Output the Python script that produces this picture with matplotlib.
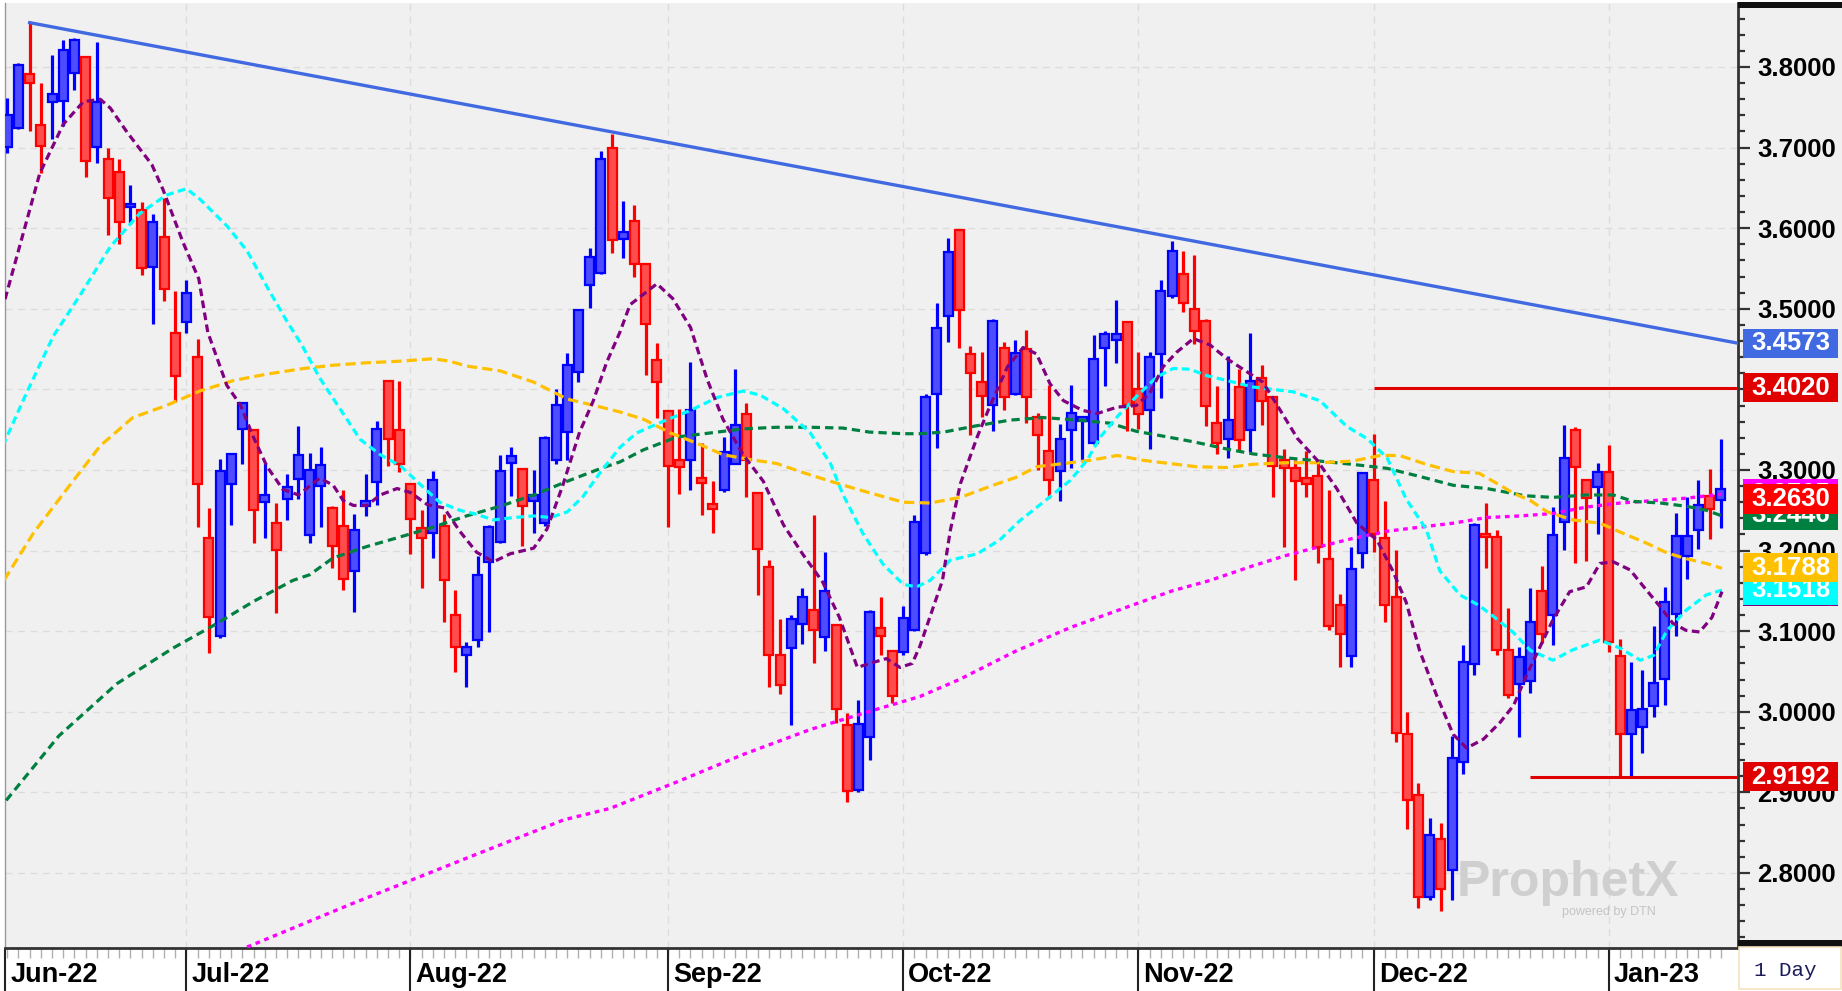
import numpy as np
import matplotlib.pyplot as plt
from matplotlib.patches import Rectangle
from matplotlib.ticker import MultipleLocator, FormatStrFormatter
from matplotlib import transforms

plt.rcParams['font.family'] = ['Liberation Sans', 'DejaVu Sans']

# daily candles, index 0 = first bar (early June 2022)
opens = [3.701, 3.724, 3.791, 3.728, 3.757, 3.758, 3.792, 3.813, 3.701, 3.686,
         3.670, 3.626, 3.623, 3.552, 3.589, 3.470, 3.484, 3.440, 3.215, 3.094,
         3.283, 3.351, 3.350, 3.260, 3.234, 3.264, 3.289, 3.219, 3.280, 3.253,
         3.231, 3.175, 3.255, 3.285, 3.411, 3.350, 3.283, 3.228, 3.222, 3.230,
         3.120, 3.070, 3.089, 3.186, 3.211, 3.309, 3.301, 3.262, 3.234, 3.313,
         3.347, 3.422, 3.529, 3.544, 3.699, 3.587, 3.609, 3.555, 3.436, 3.373,
         3.313, 3.313, 3.290, 3.258, 3.275, 3.308, 3.369, 3.271, 3.180, 3.071,
         3.079, 3.109, 3.126, 3.093, 3.108, 2.984, 2.903, 2.969, 3.104, 3.076,
         3.074, 3.102, 3.197, 3.394, 3.491, 3.598, 3.444, 3.409, 3.381, 3.451,
         3.394, 3.450, 3.366, 3.324, 3.299, 3.350, 3.361, 3.334, 3.451, 3.461,
         3.483, 3.401, 3.375, 3.444, 3.516, 3.543, 3.500, 3.485, 3.358, 3.339,
         3.403, 3.349, 3.414, 3.390, 3.313, 3.302, 3.290, 3.292, 3.190, 3.132,
         3.069, 3.197, 3.288, 3.215, 3.143, 2.972, 2.897, 2.770, 2.842, 2.804,
         2.938, 3.059, 3.221, 3.217, 3.077, 3.034, 3.038, 3.150, 3.120, 3.235,
         3.349, 3.288, 3.279, 3.297, 3.069, 2.973, 2.981, 3.007, 3.041, 3.121,
         3.193, 3.225, 3.268, 3.263]
highs = [3.762, 3.805, 3.855, 3.780, 3.815, 3.834, 3.836, 3.814, 3.831, 3.699,
         3.686, 3.654, 3.633, 3.617, 3.637, 3.522, 3.536, 3.462, 3.253, 3.314,
         3.320, 3.383, 3.350, 3.309, 3.259, 3.295, 3.355, 3.321, 3.329, 3.255,
         3.275, 3.245, 3.295, 3.361, 3.411, 3.411, 3.283, 3.250, 3.299, 3.245,
         3.151, 3.087, 3.193, 3.232, 3.318, 3.329, 3.302, 3.300, 3.342, 3.400,
         3.445, 3.499, 3.575, 3.696, 3.717, 3.634, 3.629, 3.555, 3.457, 3.374,
         3.376, 3.434, 3.334, 3.286, 3.341, 3.425, 3.383, 3.271, 3.188, 3.115,
         3.120, 3.154, 3.244, 3.198, 3.108, 2.998, 3.014, 3.126, 3.142, 3.076,
         3.131, 3.244, 3.394, 3.507, 3.588, 3.599, 3.454, 3.447, 3.487, 3.459,
         3.461, 3.474, 3.371, 3.405, 3.357, 3.405, 3.367, 3.468, 3.472, 3.511,
         3.483, 3.446, 3.446, 3.536, 3.584, 3.572, 3.567, 3.487, 3.404, 3.441,
         3.425, 3.470, 3.430, 3.390, 3.326, 3.313, 3.324, 3.311, 3.275, 3.146,
         3.205, 3.298, 3.345, 3.262, 3.201, 3.000, 2.912, 2.868, 2.862, 2.970,
         3.083, 3.234, 3.259, 3.226, 3.129, 3.080, 3.154, 3.181, 3.254, 3.356,
         3.353, 3.289, 3.309, 3.331, 3.090, 3.062, 3.052, 3.107, 3.155, 3.247,
         3.267, 3.287, 3.301, 3.338]
lows = [3.693, 3.723, 3.720, 3.668, 3.711, 3.727, 3.772, 3.663, 3.681, 3.592,
        3.580, 3.605, 3.542, 3.481, 3.510, 3.384, 3.470, 3.229, 3.073, 3.092,
        3.232, 3.307, 3.209, 3.216, 3.122, 3.238, 3.264, 3.210, 3.229, 3.179,
        3.151, 3.124, 3.243, 3.257, 3.305, 3.298, 3.196, 3.154, 3.191, 3.111,
        3.049, 3.031, 3.080, 3.099, 3.210, 3.268, 3.206, 3.222, 3.231, 3.307,
        3.312, 3.409, 3.501, 3.543, 3.569, 3.563, 3.540, 3.418, 3.365, 3.229,
        3.270, 3.275, 3.244, 3.222, 3.273, 3.307, 3.266, 3.145, 3.031, 3.022,
        2.984, 3.084, 3.060, 3.076, 2.986, 2.888, 2.900, 2.940, 3.071, 3.011,
        3.071, 3.100, 3.194, 3.327, 3.459, 3.451, 3.343, 3.366, 3.348, 3.374,
        3.393, 3.358, 3.300, 3.265, 3.262, 3.302, 3.311, 3.332, 3.404, 3.433,
        3.348, 3.351, 3.326, 3.389, 3.514, 3.496, 3.456, 3.354, 3.320, 3.315,
        3.324, 3.322, 3.356, 3.266, 3.205, 3.163, 3.266, 3.185, 3.102, 3.055,
        3.055, 3.179, 3.198, 3.111, 2.962, 2.855, 2.756, 2.766, 2.753, 2.766,
        2.923, 3.046, 3.179, 3.070, 3.017, 2.969, 3.023, 3.085, 3.083, 3.201,
        3.185, 3.187, 3.220, 3.074, 2.919, 2.919, 2.949, 2.993, 3.008, 3.094,
        3.165, 3.202, 3.214, 3.228]
closes = [3.740, 3.803, 3.780, 3.702, 3.767, 3.821, 3.834, 3.683, 3.757, 3.637,
          3.608, 3.629, 3.551, 3.608, 3.525, 3.416, 3.519, 3.282, 3.117, 3.299,
          3.320, 3.383, 3.250, 3.269, 3.201, 3.279, 3.318, 3.300, 3.306, 3.206,
          3.165, 3.225, 3.262, 3.351, 3.338, 3.307, 3.239, 3.215, 3.287, 3.163,
          3.080, 3.080, 3.170, 3.229, 3.299, 3.317, 3.255, 3.269, 3.340, 3.381,
          3.430, 3.499, 3.564, 3.686, 3.585, 3.595, 3.556, 3.481, 3.409, 3.305,
          3.304, 3.375, 3.284, 3.251, 3.322, 3.356, 3.313, 3.202, 3.071, 3.033,
          3.115, 3.142, 3.102, 3.150, 3.004, 2.902, 2.985, 3.124, 3.094, 3.019,
          3.116, 3.235, 3.391, 3.476, 3.570, 3.498, 3.420, 3.392, 3.485, 3.391,
          3.445, 3.391, 3.343, 3.288, 3.339, 3.371, 3.366, 3.438, 3.469, 3.469,
          3.381, 3.370, 3.440, 3.522, 3.572, 3.507, 3.473, 3.380, 3.334, 3.362,
          3.337, 3.410, 3.385, 3.305, 3.302, 3.286, 3.283, 3.205, 3.107, 3.096,
          3.177, 3.296, 3.220, 3.133, 2.974, 2.890, 2.770, 2.847, 2.780, 2.943,
          3.062, 3.232, 3.217, 3.077, 3.021, 3.068, 3.111, 3.096, 3.219, 3.315,
          3.304, 3.265, 3.297, 3.087, 2.972, 3.002, 3.004, 3.036, 3.136, 3.218,
          3.218, 3.257, 3.251, 3.276]

# moving averages (bar index, value)
ma_fast_x = [-0.2, 2.9, 5.0, 6.8, 8.3, 9.2, 10.7, 12.9, 13.9, 15.7, 17.1, 17.9, 19.6, 20.8,
             22.0, 23.2, 24.6, 26.0, 27.9, 29.1, 30.0, 30.9, 32.1, 33.3, 34.8, 36.0, 37.5,
             39.0, 40.4, 41.9, 43.4, 44.9, 47.0, 48.2, 49.6, 51.1, 52.3, 53.5, 54.7, 55.6,
             58.0, 59.4, 61.0, 62.5, 63.9, 65.7, 67.5, 69.3, 71.0, 72.8, 74.3, 75.9, 77.0,
             78.5, 79.7, 80.8, 81.5, 83.5, 84.2, 85.1, 86.6, 87.7, 89.3, 90.7, 91.9, 93.1,
             94.3, 96.0, 97.3, 99.1, 100.8, 102.0, 103.2, 104.4, 105.9, 107.4, 108.9, 112.1,
             113.4, 115.2, 116.9, 118.7, 120.5, 122.3, 123.7, 124.9, 126.1, 127.6, 129.1,
             130.3, 131.8, 133.3, 134.5, 135.7, 138.0, 139.5, 141.0, 142.2, 143.4, 144.9,
             146.0, 147.6, 148.7, 149.9, 151.1, 152.2, 153.1]
ma_fast_y = [3.512, 3.668, 3.729, 3.757, 3.760, 3.749, 3.719, 3.679, 3.648, 3.582, 3.537,
             3.471, 3.405, 3.381, 3.340, 3.304, 3.276, 3.269, 3.290, 3.281, 3.262, 3.256,
             3.256, 3.269, 3.277, 3.272, 3.257, 3.253, 3.224, 3.198, 3.186, 3.196, 3.203,
             3.227, 3.281, 3.347, 3.385, 3.433, 3.471, 3.505, 3.531, 3.513, 3.477, 3.412,
             3.363, 3.319, 3.286, 3.232, 3.196, 3.161, 3.117, 3.055, 3.060, 3.066, 3.055,
             3.060, 3.082, 3.163, 3.225, 3.283, 3.341, 3.378, 3.428, 3.452, 3.444, 3.407,
             3.386, 3.374, 3.370, 3.378, 3.380, 3.395, 3.428, 3.446, 3.463, 3.455, 3.438,
             3.409, 3.380, 3.339, 3.313, 3.277, 3.234, 3.213, 3.175, 3.136, 3.076, 3.021,
             2.972, 2.955, 2.966, 2.987, 3.008, 3.047, 3.114, 3.149, 3.155, 3.184, 3.186,
             3.176, 3.157, 3.130, 3.110, 3.101, 3.099, 3.117, 3.149]

ma_cyan_x = [-0.4, 1.7, 4.1, 6.5, 9.2, 11.8, 14.2, 16.0, 17.2, 19.6, 21.4, 23.2, 24.9, 26.3,
             27.9, 29.7, 31.5, 33.3, 35.1, 36.8, 38.6, 40.4, 41.9, 43.4, 45.2, 47.0, 48.5,
             50.0, 51.4, 53.0, 54.7, 56.2, 58.5, 61.0, 63.4, 65.7, 67.2, 69.3, 71.7, 73.5,
             74.6, 76.4, 78.2, 80.0, 81.2, 82.4, 84.2, 86.6, 88.6, 90.4, 92.5, 94.9, 96.4,
             97.6, 99.1, 100.8, 102.6, 104.1, 105.6, 107.1, 108.9, 111.2, 114.8, 117.2,
             119.6, 121.4, 123.2, 124.9, 126.7, 127.9, 129.7, 131.4, 133.0, 134.5, 136.0,
             138.0, 139.8, 142.2, 144.0, 145.8, 147.0, 148.2, 149.9, 151.7, 153.1]
ma_cyan_y = [3.330, 3.395, 3.466, 3.517, 3.577, 3.618, 3.641, 3.649, 3.636, 3.603, 3.572,
             3.527, 3.486, 3.455, 3.414, 3.376, 3.338, 3.319, 3.305, 3.283, 3.260, 3.250,
             3.245, 3.238, 3.241, 3.243, 3.241, 3.248, 3.267, 3.298, 3.328, 3.346, 3.360,
             3.374, 3.390, 3.398, 3.393, 3.376, 3.346, 3.308, 3.270, 3.221, 3.183, 3.158,
             3.155, 3.163, 3.188, 3.196, 3.213, 3.237, 3.260, 3.287, 3.312, 3.341, 3.366,
             3.391, 3.415, 3.426, 3.425, 3.417, 3.411, 3.403, 3.397, 3.386, 3.354, 3.339,
             3.315, 3.264, 3.226, 3.175, 3.145, 3.132, 3.115, 3.098, 3.076, 3.064, 3.077,
             3.089, 3.079, 3.064, 3.070, 3.101, 3.126, 3.145, 3.151]

ma_orange_x = [-0.3, 2.3, 5.3, 8.3, 11.2, 14.2, 17.2, 20.2, 23.2, 26.5, 29.1, 32.1, 35.1,
               38.0, 39.5, 41.0, 44.0, 47.0, 50.0, 53.0, 54.7, 56.8, 59.2, 61.6, 63.9, 66.3,
               68.7, 71.0, 73.5, 75.9, 78.2, 80.0, 82.4, 85.1, 88.0, 90.1, 91.9, 94.3, 96.7,
               99.1, 101.4, 103.8, 106.2, 108.9, 111.2, 114.2, 117.2, 120.1, 122.6, 124.3,
               126.7, 129.1, 131.4, 133.3, 134.5, 136.0, 137.5, 139.8, 142.2, 144.0, 146.4,
               148.2, 149.9, 151.7, 153.1]
ma_orange_y = [3.163, 3.221, 3.276, 3.330, 3.365, 3.380, 3.398, 3.411, 3.419, 3.426, 3.430,
               3.433, 3.435, 3.438, 3.435, 3.429, 3.423, 3.409, 3.388, 3.378, 3.372, 3.363,
               3.346, 3.333, 3.319, 3.313, 3.308, 3.297, 3.286, 3.276, 3.267, 3.260, 3.259,
               3.266, 3.281, 3.291, 3.304, 3.308, 3.312, 3.318, 3.312, 3.308, 3.304, 3.303,
               3.307, 3.309, 3.309, 3.311, 3.318, 3.318, 3.307, 3.298, 3.296, 3.281, 3.271,
               3.262, 3.248, 3.238, 3.234, 3.223, 3.209, 3.197, 3.190, 3.184, 3.178]

ma_green_x = [-0.1, 4.6, 9.8, 14.8, 18.4, 22.0, 25.5, 27.0, 29.1, 32.1, 35.1, 38.0, 41.0,
              44.0, 47.0, 50.0, 53.0, 54.7, 56.8, 59.8, 62.8, 65.7, 68.7, 71.7, 74.6, 77.0,
              80.0, 81.5, 83.6, 86.6, 89.6, 92.5, 95.5, 98.5, 100.8, 103.2, 105.9, 108.9,
              111.2, 114.2, 117.2, 120.1, 123.2, 126.1, 129.1, 132.1, 135.5, 138.0, 141.0,
              143.4, 145.2, 147.6, 149.9, 151.7, 153.1]
ma_green_y = [2.890, 2.970, 3.035, 3.079, 3.107, 3.137, 3.163, 3.170, 3.191, 3.205, 3.217,
              3.229, 3.243, 3.255, 3.269, 3.286, 3.302, 3.310, 3.325, 3.341, 3.346, 3.351,
              3.353, 3.353, 3.352, 3.347, 3.345, 3.345, 3.347, 3.355, 3.362, 3.365, 3.362,
              3.358, 3.348, 3.342, 3.335, 3.326, 3.320, 3.315, 3.311, 3.307, 3.302, 3.292,
              3.281, 3.277, 3.268, 3.266, 3.269, 3.269, 3.261, 3.259, 3.255, 3.250, 3.243]

ma_slow_x = [21.4, 30.8, 41.3, 49.7, 53.8, 59.8, 65.7, 71.7, 77.6, 81.5, 85.0, 90.0, 95.0,
             100.0, 104.0, 107.4, 111.2, 114.2, 117.2, 120.1, 123.2, 126.1, 129.1, 132.1,
             135.1, 138.0, 141.0, 144.0, 147.0, 149.9, 153.1]
ma_slow_y = [2.708, 2.762, 2.820, 2.866, 2.880, 2.913, 2.947, 2.978, 3.003, 3.019, 3.040,
             3.075, 3.105, 3.130, 3.150, 3.163, 3.181, 3.194, 3.205, 3.215, 3.224, 3.229,
             3.234, 3.241, 3.243, 3.246, 3.254, 3.259, 3.262, 3.265, 3.270]

trend_x = [2, 154.53]
trend_y = [3.855, 3.4573]
levels = [3.4020, 2.9192]
level_start = [122.0, 136.0]

month_pos = [-0.2, 16, 36, 59, 80, 101, 122, 143]
month_names = ['Jun-22', 'Jul-22', 'Aug-22', 'Sep-22', 'Oct-22', 'Nov-22', 'Dec-22', 'Jan-23']

tag_text = ['3.4573', '3.4020', '3.2705', '3.2446', '3.2630', '3.1495', '3.1518', '3.1788', '2.9192']
tag_pos = [3.4573, 3.4020, 3.2708, 3.2440, 3.2640, 3.1490, 3.1510, 3.1788, 2.9192]
tag_color = ['#4169e1', '#e00000', '#ff00ff', '#008040', '#ff0000', '#800080', '#00ffff', '#ffc000', '#e00000']

W, H = 1842, 991
fig = plt.figure(figsize=(W / 100, H / 100), dpi=100, facecolor='white')
ax = fig.add_axes([5 / W, 1 - 948 / H, (1738 - 5) / W, (948 - 3) / H])
ax.set_facecolor('#f0f0f0')

# right price panel background and bars
fig.add_artist(Rectangle((1738 / W, 1 - 946 / H), 104 / W, 943 / H, transform=fig.transFigure,
                         facecolor='#f0f0f0', edgecolor='none', zorder=-1))
fig.add_artist(Rectangle((1738 / W, 1 - 8 / H), 104 / W, 6 / H, transform=fig.transFigure,
                         facecolor='#111111', edgecolor='none', zorder=5))
fig.add_artist(Rectangle((1738 / W, 1 - 947 / H), 104 / W, 7 / H, transform=fig.transFigure,
                         facecolor='#111111', edgecolor='none', zorder=5))
fig.add_artist(Rectangle((1739 / W, 0.002), 102 / W, 42 / H, transform=fig.transFigure,
                         facecolor='white', edgecolor='#f3e4c0', lw=1.2, zorder=5))
fig.text(1754 / W, 1 - 971 / H, '1 Day', fontsize=15, color='#1c1c5c', va='center', ha='left',
         family=['Liberation Mono', 'DejaVu Sans Mono'], zorder=6)

n = len(opens)
idx = np.arange(n)
o = np.array(opens)
c = np.array(closes)
up = c >= o
edge = np.where(up, '#0000ff', '#ff0000')
fill = np.where(up, '#4d4dff', '#ff4d4d')

ax.vlines(idx, lows, highs, colors=edge, lw=2.3, zorder=3)
body_h = np.maximum(np.abs(c - o), 0.004)
ax.bar(idx, body_h, bottom=np.minimum(o, c), width=0.8, color=fill, edgecolor=edge,
       linewidth=1.6, zorder=4)

ax.plot(ma_slow_x, ma_slow_y, color='#ff00ff', lw=2.4, dashes=(1.4, 1.4), zorder=5)
ax.plot(ma_green_x, ma_green_y, color='#008040', lw=2.3, dashes=(2.6, 1.6), zorder=5)
ax.plot(ma_orange_x, ma_orange_y, color='#ffc000', lw=2.3, dashes=(3.2, 1.6), zorder=5)
ax.plot(ma_cyan_x, ma_cyan_y, color='#00ffff', lw=2.3, dashes=(2.4, 1.4), zorder=5)
ax.plot(ma_fast_x, ma_fast_y, color='#800080', lw=2.3, dashes=(2.4, 1.4), zorder=5)

ax.plot(trend_x, trend_y, color='#4169e1', lw=2.4, zorder=6)
ax.hlines(levels, level_start, 154.53, colors='#e00000', lw=2.2, zorder=6)

ax.set_xlim(-0.205, 154.53)
ax.set_ylim(2.7069, 3.8794)

# grid
ax.set_yticks(np.arange(2.8, 3.81, 0.1))
ax.yaxis.set_minor_locator(MultipleLocator(0.02))
ax.yaxis.set_major_formatter(FormatStrFormatter('%.4f'))
ax.yaxis.tick_right()
ax.grid(axis='y', color='#dcdcdc', lw=1, dashes=(5, 4), zorder=0)
ax.set_axisbelow(True)
bt = transforms.blended_transform_factory(ax.transData, ax.transAxes)
ax.vlines(month_pos[1:], 0, 1, transform=bt, colors='#dcdcdc', lw=1, linestyles=(0, (5, 4)), zorder=0)

ax.tick_params(axis='y', which='major', length=8.6, width=1.6, color='#333333', pad=5,
               labelsize=18.5, labelcolor='black')
ax.tick_params(axis='y', which='minor', length=5, width=1.6, color='#333333')
for t in ax.get_yticklabels():
    t.set_fontweight('bold')

ax.set_xticks(idx)
ax.tick_params(axis='x', which='major', length=7, width=1, color='#b0b0b0', labelbottom=False)

ax.spines['top'].set_visible(False)
ax.spines['bottom'].set_color('#333333')
ax.spines['bottom'].set_linewidth(2)
ax.spines['right'].set_color('#333333')
ax.spines['right'].set_linewidth(2)
ax.spines['left'].set_color('#999999')
ax.spines['left'].set_linewidth(1)

# month separators and labels below the plot
ax.vlines(month_pos, -0.046, 0, transform=bt, colors='#222222', lw=1.5, clip_on=False)
for p, name in zip(month_pos, month_names):
    ax.text(p + 0.45, -0.0285, name, transform=bt, fontsize=19.5, fontweight='bold',
            va='center', ha='left', clip_on=False)

# price tags on the right axis
tt = transforms.blended_transform_factory(ax.transAxes, ax.transData)
box_h = 0.036
for txt, pos, col in zip(tag_text, tag_pos, tag_color):
    ax.add_patch(Rectangle((1.0027, pos - box_h / 2), 0.0552, box_h, transform=tt,
                           facecolor=col, edgecolor='none', clip_on=False, zorder=10))
    ax.text(1.0303, pos, txt, transform=tt, fontsize=18.5, fontweight='bold', color='white',
            ha='center', va='center', clip_on=False, zorder=10)

# watermark
ax.text(129.4, 2.772, 'ProphetX', fontsize=36, fontweight='bold', color='#cfcfcf',
        ha='left', va='baseline', zorder=1)
ax.text(138.8, 2.752, 'powered by DTN', fontsize=9, color='#c4c4c4', ha='left',
        va='center', zorder=1)

fig.savefig('out.png', dpi=100, facecolor=fig.get_facecolor())
